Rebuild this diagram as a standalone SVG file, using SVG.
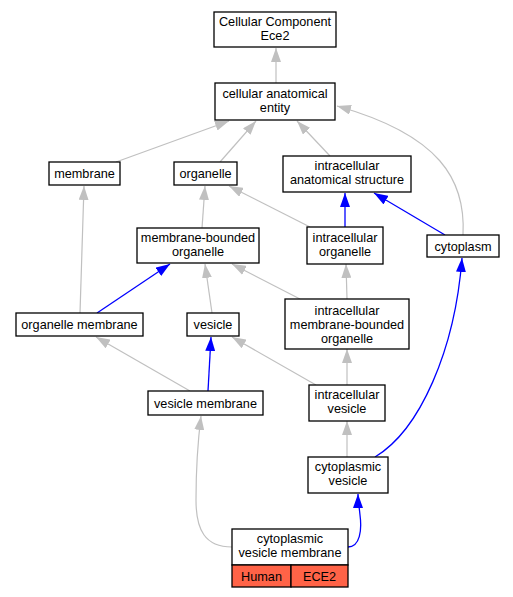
<svg xmlns="http://www.w3.org/2000/svg" width="513" height="597" viewBox="0 0 513 597">
<style>
.n rect{fill:#fff;stroke:#000;stroke-width:1.3}
.n text,.t{font-family:"Liberation Sans",Arial,sans-serif;font-size:12.7px;text-anchor:middle;fill:#000}
.g{fill:none;stroke:#c0c0c0;stroke-width:1.2}
.b{fill:none;stroke:#0000ff;stroke-width:1.3}
.g{marker-end:url(#ag)}
.b{marker-end:url(#ab)}
rect.red{fill:#ff6347}
</style>
<defs>
<marker id="ag" markerUnits="userSpaceOnUse" markerWidth="14" markerHeight="10" refX="14" refY="5" orient="auto" viewBox="0 0 14 10"><path d="M0,0L14,5L0,10z" fill="#c0c0c0"/></marker>
<marker id="ab" markerUnits="userSpaceOnUse" markerWidth="14" markerHeight="10" refX="14" refY="5" orient="auto" viewBox="0 0 14 10"><path d="M0,0L14,5L0,10z" fill="#0000ff"/></marker>
</defs>
<rect width="513" height="597" fill="#fff"/>
<g id="edges">
<path class="g" d="M276,83L276,48"/>
<path class="g" d="M116,162L229,121"/>
<path class="g" d="M220,162L256,121"/>
<path class="g" d="M330,156L297,121"/>
<path class="g" d="M463,235C466,180 440,135 337,106"/>
<path class="g" d="M310,227L229,186"/>
<path class="g" d="M202,228L205,186"/>
<path class="g" d="M80,313L84,186"/>
<path class="g" d="M212,313L205,264"/>
<path class="g" d="M300,299L232,264"/>
<path class="g" d="M347,299L346,264"/>
<path class="g" d="M190,391L96,337"/>
<path class="g" d="M316,385L232,337"/>
<path class="g" d="M347,385L347,349"/>
<path class="g" d="M347,457L347,421"/>
<path class="g" d="M232,547C205,547 196,530 196,500C196,470 198,440 201,416"/>
<path class="b" d="M345,227L345,193"/>
<path class="b" d="M445,235L374,193"/>
<path class="b" d="M97,313L170,264"/>
<path class="b" d="M208,391L211,337"/>
<path class="b" d="M375,457C420,430 455,350 462,258"/>
<path class="b" d="M348,547C360,547 362,530 360,515C359,505 358,500 358,494"/>
</g>
<g id="n_cc" class="n"><rect x="214" y="12" width="122" height="35"/><text x="275" y="26">Cellular Component</text><text x="275" y="40">Ece2</text></g>
<g id="n_cae" class="n"><rect x="215" y="83" width="120" height="37"/><text x="275" y="98">cellular anatomical</text><text x="275" y="112">entity</text></g>
<g id="n_membrane" class="n"><rect x="49" y="162" width="71" height="23"/><text x="84.5" y="178">membrane</text></g>
<g id="n_organelle" class="n"><rect x="174" y="162" width="63" height="23"/><text x="205.5" y="178">organelle</text></g>
<g id="n_ias" class="n"><rect x="283" y="156" width="128" height="36"/><text x="347" y="170">intracellular</text><text x="347" y="184">anatomical structure</text></g>
<g id="n_cytoplasm" class="n"><rect x="427" y="235" width="72" height="22"/><text x="463" y="250.5">cytoplasm</text></g>
<g id="n_io" class="n"><rect x="307" y="227" width="76" height="37"/><text x="345" y="241.5">intracellular</text><text x="345" y="255.5">organelle</text></g>
<g id="n_mbo" class="n"><rect x="137" y="228" width="122" height="35"/><text x="198" y="241.5">membrane-bounded</text><text x="198" y="255.5">organelle</text></g>
<g id="n_om" class="n"><rect x="16" y="313" width="127" height="23"/><text x="79.5" y="329">organelle membrane</text></g>
<g id="n_vesicle" class="n"><rect x="187" y="313" width="52" height="23"/><text x="213" y="329">vesicle</text></g>
<g id="n_imbo" class="n"><rect x="285" y="299" width="124" height="50"/><text x="347" y="314.5">intracellular</text><text x="347" y="328.5">membrane-bounded</text><text x="347" y="342.5">organelle</text></g>
<g id="n_vm" class="n"><rect x="148" y="391" width="115" height="24"/><text x="205.5" y="407.5">vesicle membrane</text></g>
<g id="n_iv" class="n"><rect x="309" y="385" width="76" height="36"/><text x="347" y="399">intracellular</text><text x="347" y="413">vesicle</text></g>
<g id="n_cv" class="n"><rect x="308" y="457" width="80" height="36"/><text x="348" y="471">cytoplasmic</text><text x="348" y="485">vesicle</text></g>
<g id="n_cvm" class="n"><rect x="232" y="529" width="116" height="36"/><text x="290" y="543">cytoplasmic</text><text x="290" y="557">vesicle membrane</text><rect class="red" x="232" y="565" width="59" height="22"/><rect class="red" x="291" y="565" width="57" height="22"/><text x="261.5" y="580.5">Human</text><text x="319.5" y="580.5">ECE2</text></g>
</svg>
